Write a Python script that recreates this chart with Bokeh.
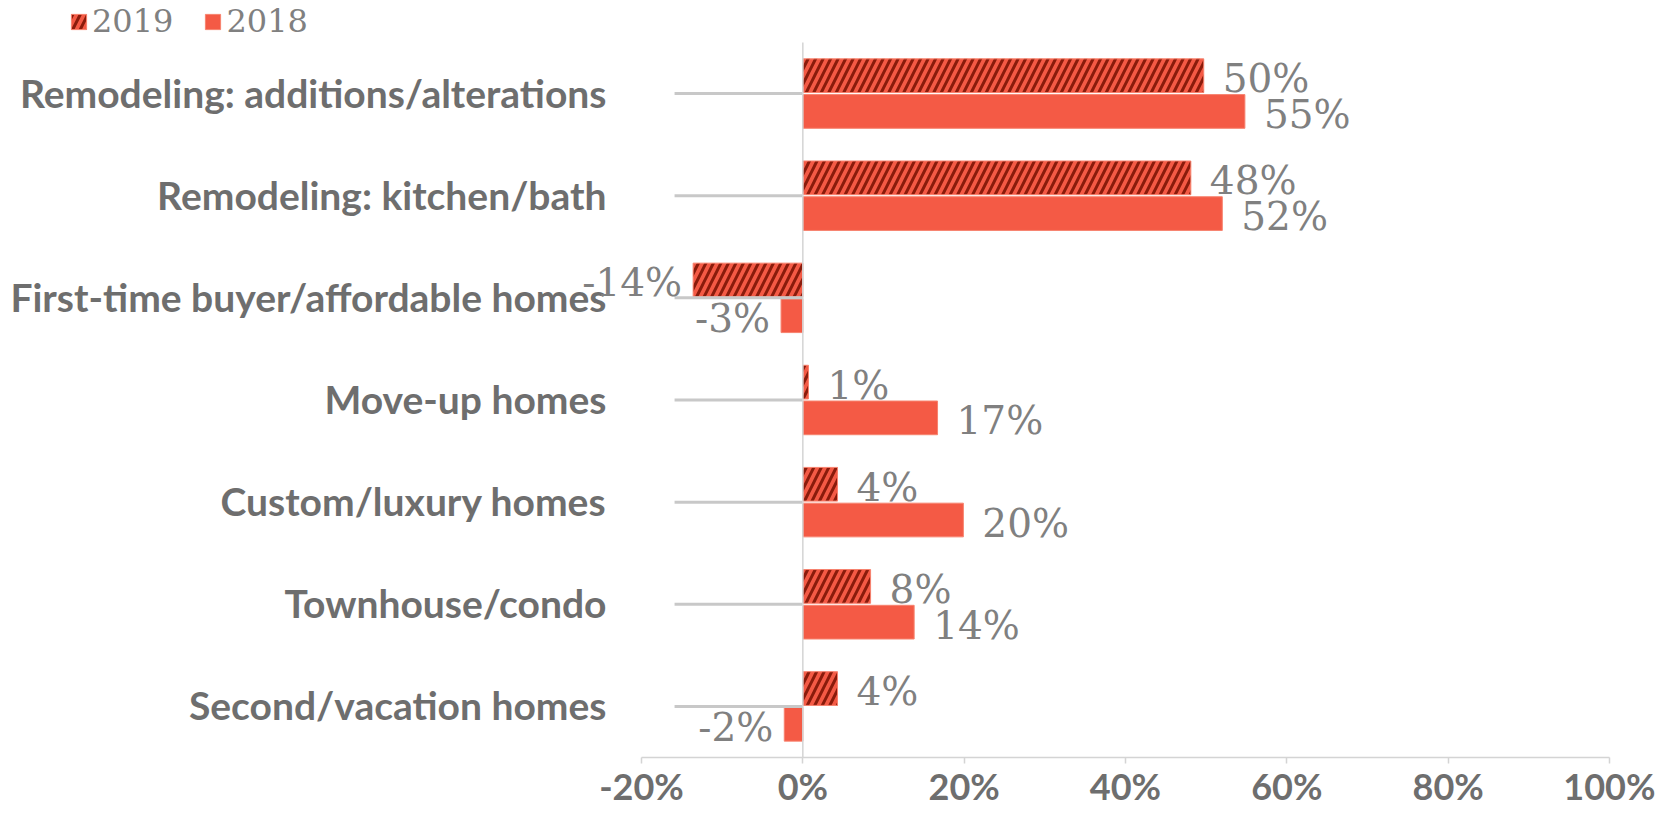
from bokeh.plotting import figure
from bokeh.models import Range1d, FixedTicker, Legend, LegendItem, ColumnDataSource
from bokeh.core.properties import value
from bokeh.embed import file_html
from bokeh.resources import INLINE

# ---- data ----
categories = [
    "Remodeling: additions/alterations",
    "Remodeling: kitchen/bath",
    "First-time buyer/affordable homes",
    "Move-up homes",
    "Custom/luxury homes",
    "Townhouse/condo",
    "Second/vacation homes",
]
values_2019 = [49.7, 48.1, -13.6, 0.7, 4.3, 8.4, 4.3]
values_2018 = [54.8, 52.0, -2.7, 16.7, 19.9, 13.8, -2.3]
x_ticks = [-20, 0, 20, 40, 60, 80, 100]
x_tick_labels = ["-20%", "0%", "20%", "40%", "60%", "80%", "100%"]
series_names = ["2019", "2018"]

# ---- style ----
FILL = "#F45A45"
HATCH = "#8A1B0B"
EDGE = "#F7836F"
GRAY_TXT = "#6e6e6e"
LBL_TXT = "#808080"
AX = "#D4D4D4"

W, H = 1655, 806
# pixel layout of the plotting area inside the canvas
X_LO_PX, X_HI_PX = 641, 1609     # where x_ticks[0] and x_ticks[-1] fall
Y_TOP_PX, Y_AX_PX = 42, 757      # top of first category band, x axis line
n = len(categories)
ppx = (X_HI_PX - X_LO_PX) / (x_ticks[-1] - x_ticks[0])
ppy = (Y_AX_PX - Y_TOP_PX) / n
x_start = x_ticks[0] - X_LO_PX / ppx
x_end = x_ticks[-1] + (W - X_HI_PX) / ppx
y_top = -0.5 - Y_TOP_PX / ppy
y_bot = n - 0.5 + (H - Y_AX_PX) / ppy

p = figure(width=W, height=H, output_backend="svg", toolbar_location=None,
           x_range=Range1d(x_start, x_end), y_range=Range1d(y_bot, y_top),
           y_axis_location=None, min_border=0)
p.outline_line_color = None
p.xgrid.visible = False
p.ygrid.visible = False
p.background_fill_color = "white"
p.border_fill_color = "white"

idx = list(range(n))
off = 0.175
bh = 0.33

src19 = ColumnDataSource(dict(y=[i - off for i in idx], right=values_2019))
src18 = ColumnDataSource(dict(y=[i + off for i in idx], right=values_2018))

r19 = p.hbar(y="y", right="right", left=0, height=bh, source=src19,
             fill_color=FILL, line_color=EDGE, line_width=1,
             hatch_pattern="right_diagonal_line", hatch_color=HATCH,
             hatch_weight=3, hatch_scale=15)
r18 = p.hbar(y="y", right="right", left=0, height=bh, source=src18,
             fill_color=FILL, line_color=EDGE, line_width=1)

# category tick lines (left of zero line)
p.segment(x0=[-15.9] * n, x1=[0] * n, y0=idx, y1=idx,
          line_color="#C8C8C8", line_width=3)
# zero line
p.segment(x0=[0], x1=[0], y0=[-0.5], y1=[n - 0.5], line_color=AX, line_width=1.5)

# category labels
p.text(x=[x_ticks[0]] * n, y=idx, text=categories, text_align="right",
       text_baseline="middle", x_offset=-35, y_offset=-1,
       text_font=value("Lato"), text_font_style="bold", text_font_size="39px",
       text_color=GRAY_TXT)

# data labels
def add_labels(vals, ys):
    pos = [(v, y, f"{round(v)}%") for v, y in zip(vals, ys) if v >= 0]
    neg = [(v, y, f"{round(v)}%") for v, y in zip(vals, ys) if v < 0]
    for group, align, xo in ((pos, "left", 19), (neg, "right", -11)):
        if not group:
            continue
        p.text(x=[g[0] for g in group], y=[g[1] for g in group],
               text=[g[2] for g in group], text_align=align,
               text_baseline="middle", x_offset=xo, y_offset=3,
               text_font=value("DejaVu Serif"), text_font_size="39px",
               text_color=LBL_TXT)

add_labels(values_2019, [i - off for i in idx])
add_labels(values_2018, [i + off for i in idx])

# x axis drawn inside the canvas at the bottom of the category bands
xa = p.xaxis[0]
xa.fixed_location = n - 0.5
xa.bounds = (x_ticks[0], x_ticks[-1])
xa.ticker = FixedTicker(ticks=x_ticks)
xa.major_label_overrides = {t: l for t, l in zip(x_ticks, x_tick_labels)}
xa.axis_line_color = AX
xa.axis_line_width = 1.5
xa.major_tick_line_color = AX
xa.major_tick_line_width = 1.5
xa.major_tick_out = 6
xa.major_tick_in = 0
xa.minor_tick_line_color = None
xa.major_label_standoff = 0
xa.major_label_text_font = "Lato"
xa.major_label_text_font_style = "bold"
xa.major_label_text_font_size = "36px"
xa.major_label_text_color = GRAY_TXT

legend = Legend(items=[LegendItem(label=series_names[0], renderers=[r19]),
                       LegendItem(label=series_names[1], renderers=[r18])],
                orientation="horizontal", location=(69, H - 40),
                label_text_font="DejaVu Serif", label_text_font_size="32px",
                label_text_color=LBL_TXT, glyph_width=19, glyph_height=19,
                label_standoff=4, spacing=30, padding=0, margin=0,
                background_fill_alpha=0, border_line_color=None)
p.add_layout(legend, "center")

open("out.html", "w").write(file_html(p, INLINE))
